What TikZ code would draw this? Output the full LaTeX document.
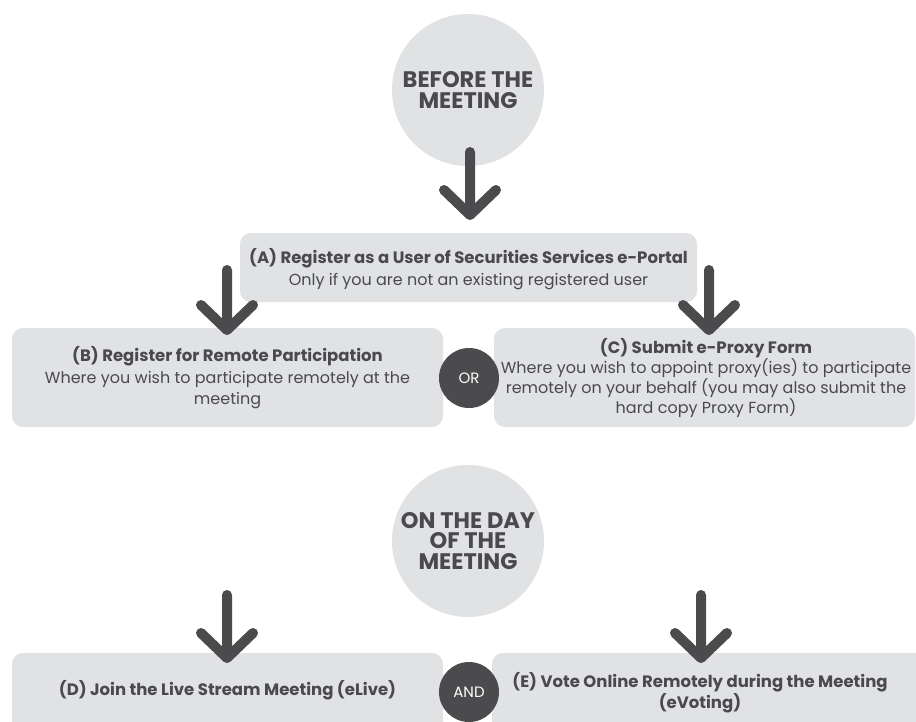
\documentclass[tikz,border=0pt]{standalone}
\usepackage{fontspec}
\setmainfont{Poppins}
\usetikzlibrary{calc}
\definecolor{boxgray}{HTML}{E1E2E4}
\definecolor{darkfill}{HTML}{4B4B4D}
\definecolor{txtgray}{HTML}{4A4A4C}
\newcommand\dnarrow[2]{\draw[arr] (#1) -- (#2) ($(#2)+(-26,-25)$) -- (#2) -- ($(#2)+(26,-25)$);}
\newcommand\bt[1]{{\bfseries\fontsize{16.5}{21}\selectfont #1}}
\begin{document}
\begin{tikzpicture}[x=1pt,y=-1pt,
 box/.style={fill=boxgray, rounded corners=11pt, inner sep=0pt},
 bigcirc/.style={circle, fill=boxgray, minimum size=152pt, inner sep=0pt, font=\bfseries\fontsize{22.5}{20.5}\selectfont, text=txtgray, align=center},
 smallcirc/.style={circle, fill=darkfill, minimum size=60pt, inner sep=0pt, text=white, font=\fontsize{15}{17}\selectfont},
 lbl/.style={align=center, text=txtgray, font=\fontsize{16}{21.5}\selectfont, inner sep=0pt},
 arr/.style={draw=darkfill, line width=10pt, line cap=round, line join=round}
]
\clip (0,0) rectangle (916,721);
\fill[white] (0,0) rectangle (916,721);
% boxes
\node[box, minimum width=457pt, minimum height=69pt] (A) at (468.5,267.5) {};
\node[box, minimum width=431pt, minimum height=99pt] (B) at (227.5,377.5) {};
\node[box, minimum width=421pt, minimum height=99pt] (C) at (704.5,377.5) {};
\node[box, minimum width=431pt, minimum height=80pt] (D) at (227.5,693) {};
\node[box, minimum width=440pt, minimum height=90pt] (E) at (712,698) {};
% circles
\node[bigcirc] (before) at (468,90) {BEFORE THE\\MEETING};
\node[bigcirc] (onday) at (468,541) {ON THE DAY\\OF THE\\MEETING};
\node[smallcirc] (or) at (469,378) {OR};
\node[smallcirc] (and) at (469,692) {AND};
% labels
\node[lbl] (Atxt) at (468.5,269) {\bt{(A) Register as a User of Securities Services e-Portal}\\Only if you are not an existing registered user};
\node[lbl] (Btxt) at (227.5,378) {\bt{(B) Register for Remote Participation}\\Where you wish to participate remotely at the\\meeting};
\node[lbl, font=\fontsize{16}{20}\selectfont] (Ctxt) at (706,378) {\bt{(C) Submit e-Proxy Form}\\Where you wish to appoint proxy(ies) to participate\\remotely on your behalf (you may also submit the\\hard copy Proxy Form)};
\node[lbl] (Dtxt) at (227.5,690) {\bt{(D) Join the Live Stream Meeting (eLive)}};
\node[lbl] (Etxt) at (700,692.5) {\bt{(E) Vote Online Remotely during the Meeting}\\\bt{(eVoting)}};
% arrow coordinates
\coordinate (t0) at (470,152);
\coordinate (h0) at (470,215);
\coordinate (t1) at (227,270);
\coordinate (h1) at (227,330);
\coordinate (t2) at (709,270);
\coordinate (h2) at (709,330);
\coordinate (t3) at (227,595);
\coordinate (h3) at (227,658);
\coordinate (t4) at (701,595);
\coordinate (h4) at (701,658);
\dnarrow{t0}{h0}
\dnarrow{t1}{h1}
\dnarrow{t2}{h2}
\dnarrow{t3}{h3}
\dnarrow{t4}{h4}
\end{tikzpicture}
\end{document}
